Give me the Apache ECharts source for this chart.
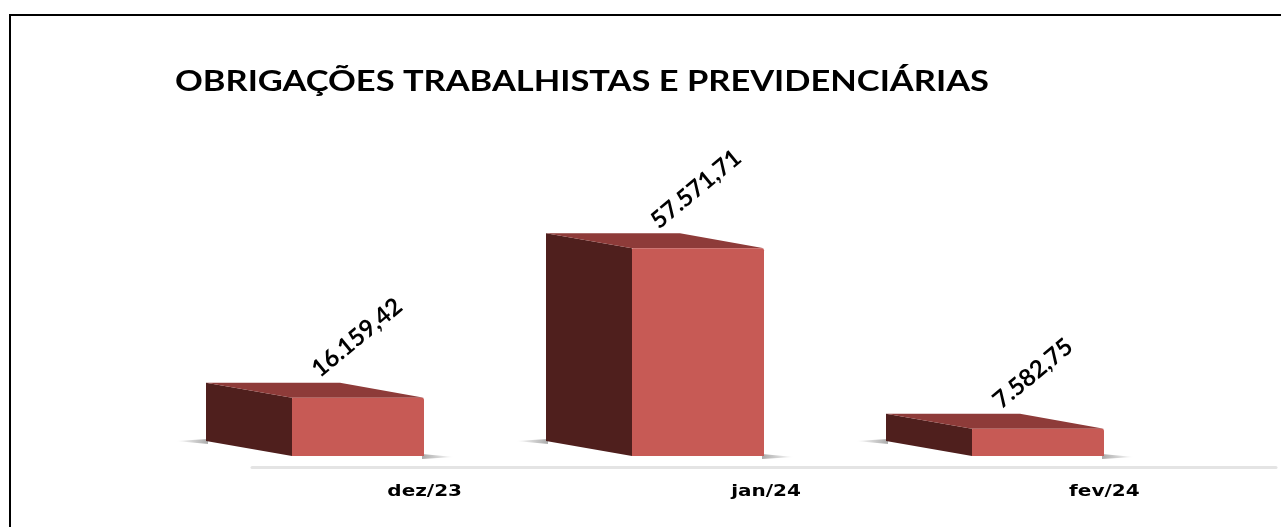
<!DOCTYPE html>
<html><head><meta charset="utf-8">
<style>html,body{margin:0;padding:0;background:#fff}#c{width:1281px;height:527px;filter:blur(0.5px)}</style>
<script src="https://cdn.jsdelivr.net/npm/echarts@6/dist/echarts.min.js"></script>
</head><body><div id="c"></div>
<script>
const chartTitle = 'OBRIGAÇÕES TRABALHISTAS E PREVIDENCIÁRIAS';
const categories = ['dez/23', 'jan/24', 'fev/24'];
const values = [16159.42, 57571.71, 7582.75];

function fmt(v) {
  const p = v.toFixed(2).split('.');
  return p[0].replace(/\B(?=(\d{3})+$)/g, '.') + ',' + p[1];
}
const chart = echarts.init(document.getElementById('c'), null, {renderer: 'canvas'});
const GL = 252, GR = 1276, GB = 467, PXK = 3.61;
const yMax = 60000, gridH = yMax / 1000 * PXK;
const labelOff = [[-1, -60], [-2, -59], [-5, -55]];
const catOff = [2, 2, -1];

function renderBar(params, api) {
  const i = api.value(0), v = api.value(1);
  const top = api.coord([i, v]), base = api.coord([i, 0]);
  const fr = Math.round(top[0] + 1.3 - i * 1.3), fl = fr - 132;
  const fb = base[1] - 11, ft = top[1] - 11;
  const dx = 86, dy = 15;
  const bl = fl - dx;
  const kids = [
    {type: 'polygon', shape: {points: [[bl - 30, fb - dy], [bl + 2, fb - dy - 2], [bl + 2, fb - dy + 3]]},
     style: {fill: {type: 'linear', x: 1, y: 0, x2: 0, y2: 0, colorStops: [{offset: 0, color: '#aaa'}, {offset: 1, color: '#fff'}]}}},
    {type: 'polygon', shape: {points: [[fr - 2, fb - 2], [fr + 30, fb + 1], [fr - 2, fb + 3]]},
     style: {fill: {type: 'linear', x: 0, y: 0, x2: 1, y2: 0, colorStops: [{offset: 0, color: '#aaa'}, {offset: 1, color: '#fff'}]}}},
    {type: 'polygon', shape: {points: [[bl, ft - dy], [fl, ft], [fl, fb], [bl, fb - dy]]}, style: {fill: '#4f1f1d'}},
    {type: 'polygon', shape: {points: [[bl, ft - dy], [fr - 84, ft - dy], [fr, ft], [fl, ft]]}, style: {fill: '#8e3b39'}},
    {type: 'rect', shape: {x: fl, y: ft, width: fr - fl, height: fb - ft, r: [1, 2, 0, 0]}, style: {fill: '#c75a55'}},
    {type: 'text', x: (fl + fr) / 2 + labelOff[i][0], y: ft + labelOff[i][1], rotation: 39.5 * Math.PI / 180,
     style: {text: fmt(v), fill: '#000', font: '700 24px Lato', align: 'center', verticalAlign: 'middle'}},
    {type: 'text', x: top[0] + catOff[i], y: 492, scaleX: 1.25,
     style: {text: categories[i], fill: '#000', font: '700 16px "DejaVu Sans"', align: 'center', verticalAlign: 'middle'}}
  ];
  return {type: 'group', children: kids};
}

chart.setOption({
  animation: false,
  backgroundColor: '#fff',
  graphic: [
    {type: 'line', shape: {x1: 9, y1: 15, x2: 1281, y2: 15}, style: {stroke: '#000', lineWidth: 2}, silent: true},
    {type: 'line', shape: {x1: 10, y1: 14, x2: 10, y2: 527}, style: {stroke: '#000', lineWidth: 2}, silent: true},
    {type: 'text', x: 175, y: 82, scaleX: 1.23, silent: true,
     style: {text: chartTitle, fill: '#000', font: '700 28px Lato', verticalAlign: 'middle'}}
  ],
  grid: {left: GL, right: 1281 - GR, bottom: 527 - GB, top: GB - gridH},
  xAxis: {type: 'category', data: categories,
    axisLine: {lineStyle: {color: '#e4e4e4', width: 3}}, axisTick: {show: false},
    axisLabel: {show: false}},
  yAxis: {type: 'value', min: 0, max: yMax, show: false, splitLine: {show: false}},
  series: [{type: 'custom', clip: false, renderItem: renderBar,
    encode: {x: 0, y: 1}, data: values.map((v, i) => [i, v])}]
});
</script></body></html>
